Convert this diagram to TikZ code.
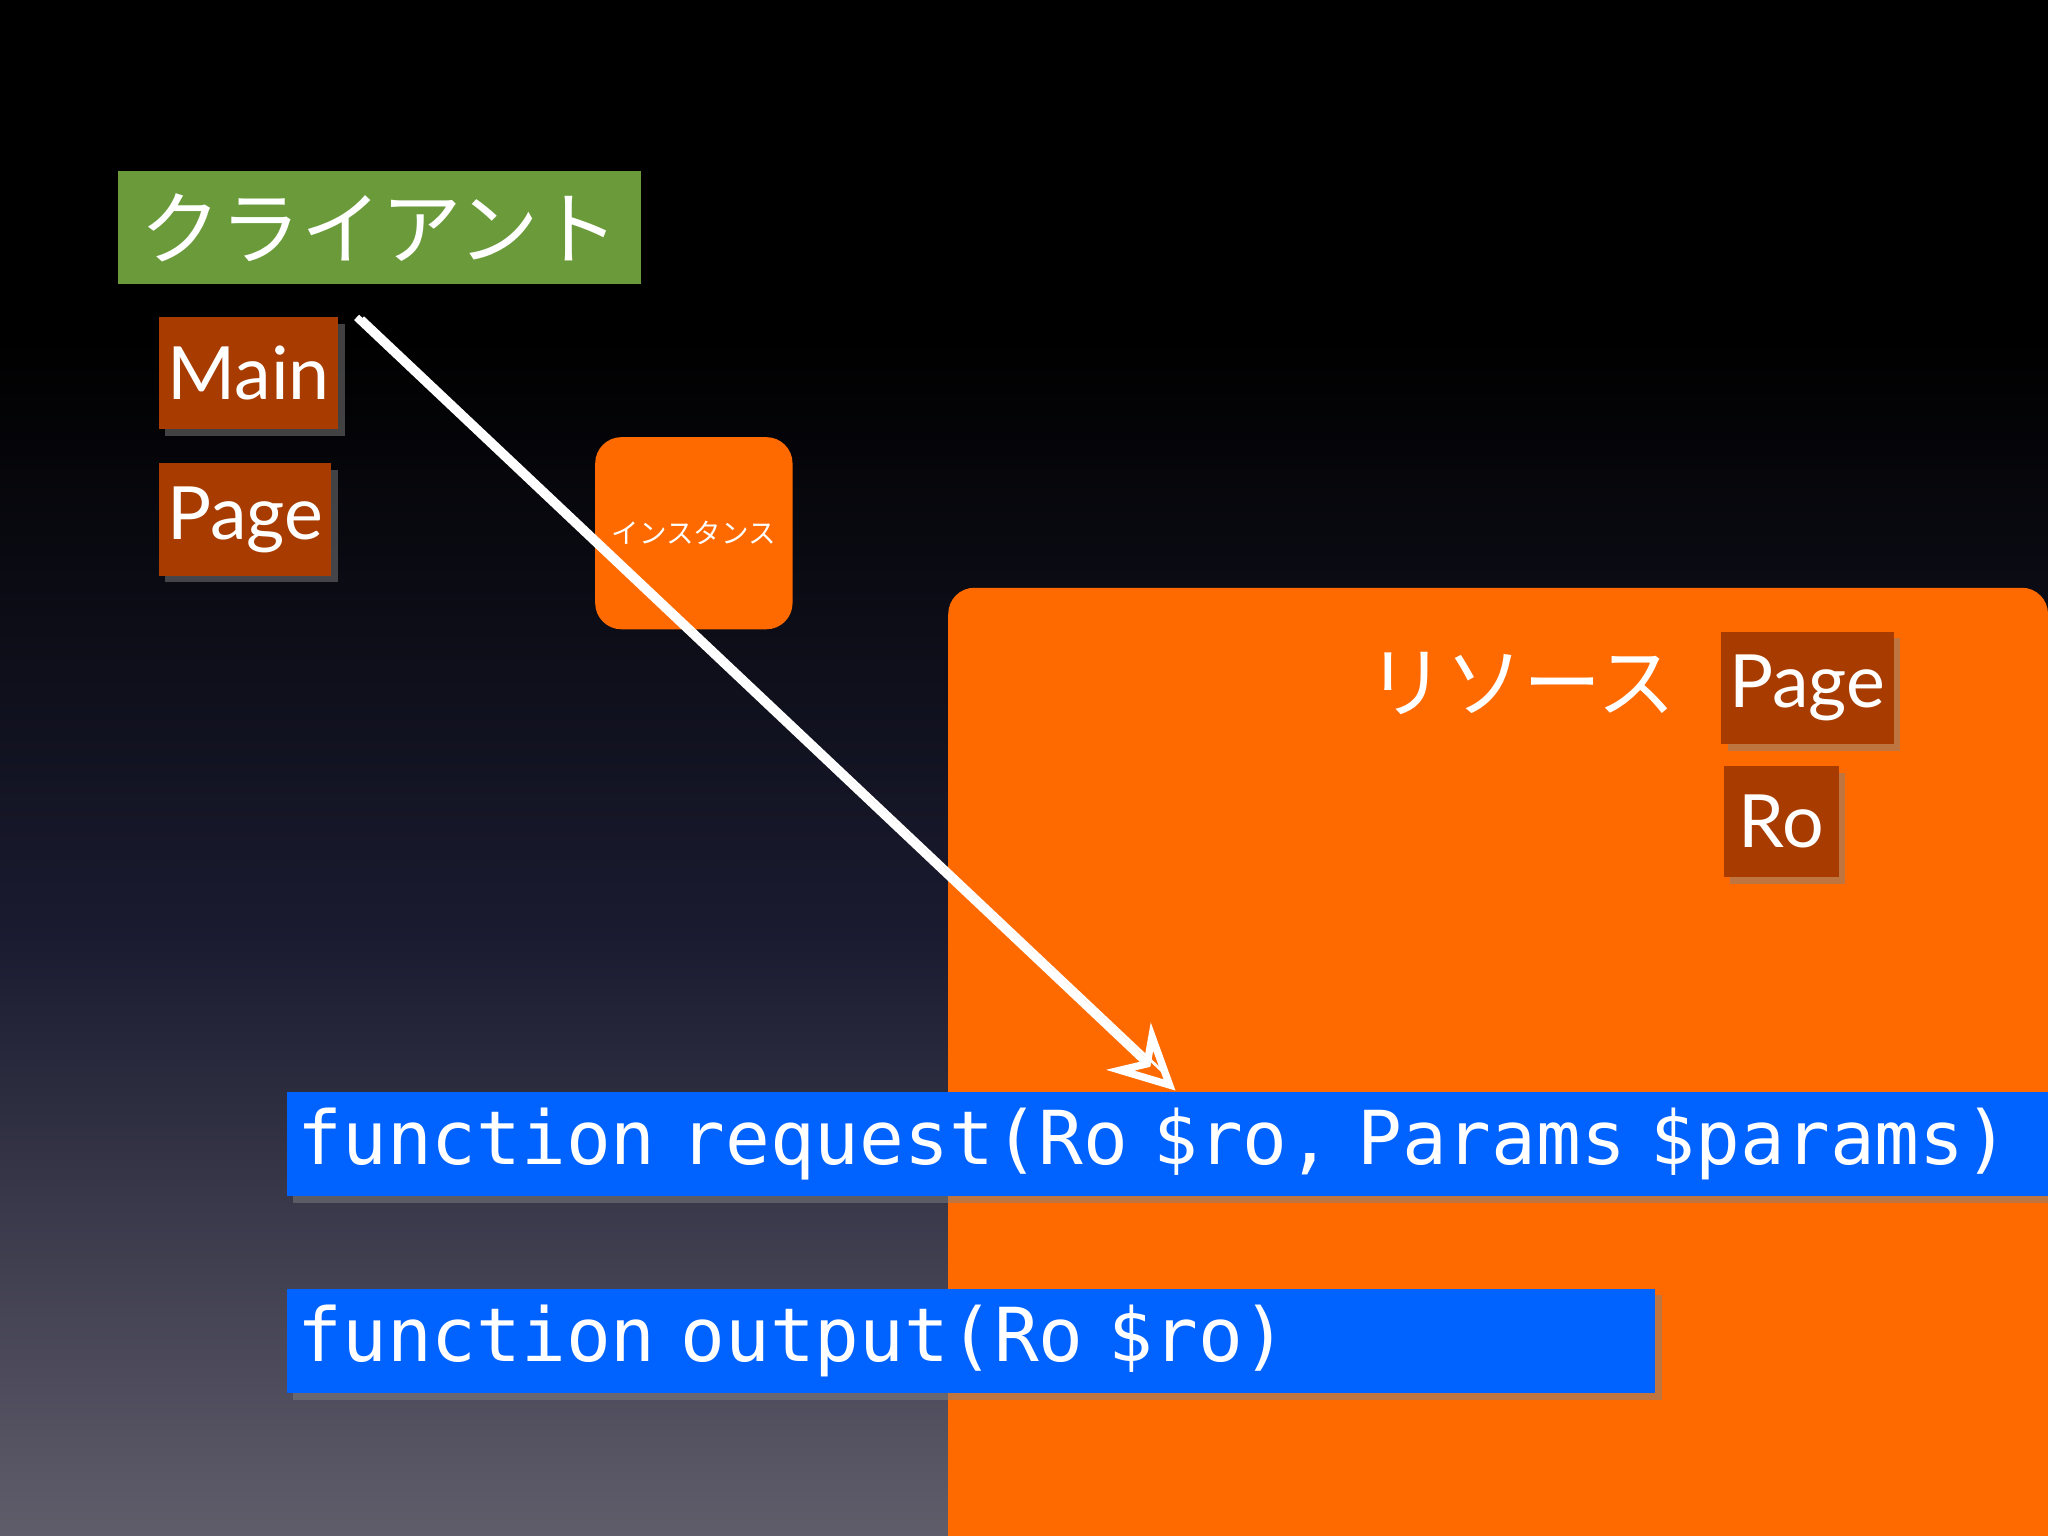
\documentclass[tikz,border=0pt]{standalone}
\usepackage{fontspec}
\setmainfont{Lato}
\newfontfamily\cjk{Noto Sans CJK JP}
\newfontfamily\mono{DejaVu Sans Mono}
\usetikzlibrary{arrows.meta,shadows}
\definecolor{grn}{HTML}{6A9A3A}
\definecolor{brn}{HTML}{A83C00}
\definecolor{org}{HTML}{FF6A00}
\definecolor{blu}{HTML}{0062FF}
\definecolor{bot}{HTML}{605D6B}
\definecolor{mid}{HTML}{1A1B30}
\begin{document}
\begin{tikzpicture}[x=0.01cm,y=-0.01cm,
  lab/.style={fill=brn,text=white,inner sep=0pt,font=\fontsize{16}{18}\selectfont,anchor=north west,drop shadow={opacity=0.5,shadow xshift=0.05cm,shadow yshift=-0.05cm}},
  bar/.style={fill=blu,text=white,inner sep=0pt,font=\mono\fontsize{16.2}{18}\selectfont,anchor=north west,align=left,drop shadow={opacity=0.5,shadow xshift=0.05cm,shadow yshift=-0.05cm}}]
\useasboundingbox (0,0) rectangle (1568,1176);
\fill[black] (0,0) rectangle (1568,260);
\shade[top color=black,bottom color=bot,middle color=mid] (0,259) rectangle (1568,1176);
\node[fill=grn,text=white,inner sep=0pt,minimum width=4cm,minimum height=0.87cm,anchor=north west,font=\cjk\fontsize{17.5}{20}\selectfont] (cl) at (90,130) {クライアント};
\node[lab,minimum width=1.37cm,minimum height=0.86cm] (main) at (121,242) {Main};
\node[lab,minimum width=1.32cm,minimum height=0.86cm] (page) at (121,354) {Page};
\node[fill=org,rounded corners=0.2cm,minimum width=1.51cm,minimum height=1.47cm,anchor=north west,inner sep=0pt,text=white,font=\cjk\fontsize{6}{7}\selectfont] (inst) at (455,334) {インスタンス};
\fill[org,rounded corners=0.2cm] (726,1176) -- (726,450) -- (1568,450) [sharp corners] -- (1568,1176) -- cycle;
\node[text=white,font=\cjk\fontsize{17}{20}\selectfont] (res) at (1165,523) {リソース};
\node[lab,minimum width=1.32cm,minimum height=0.86cm] (rpage) at (1317,483) {Page};
\node[lab,minimum width=0.88cm,minimum height=0.85cm] (ro) at (1319,586) {Ro};
\node[bar,minimum height=0.8cm,text width=13.49cm] (req) at (219,835) {\hspace{0.08cm}function request(Ro \$ro, Params \$params)};
\node[bar,minimum height=0.8cm,text width=10.47cm] (out) at (219,986) {\hspace{0.08cm}function output(Ro \$ro)};
\coordinate (s) at (273,243);
\coordinate (e) at (900,835);
\draw[white,line width=1.6pt,-{Stealth[open,length=14pt,width=14pt]}] (s) -- (e);
\draw[white,line width=0.6pt] ([xshift=0.05cm]s) -- ([xshift=-0.05cm,yshift=0.1cm]e);
\end{tikzpicture}
\end{document}
